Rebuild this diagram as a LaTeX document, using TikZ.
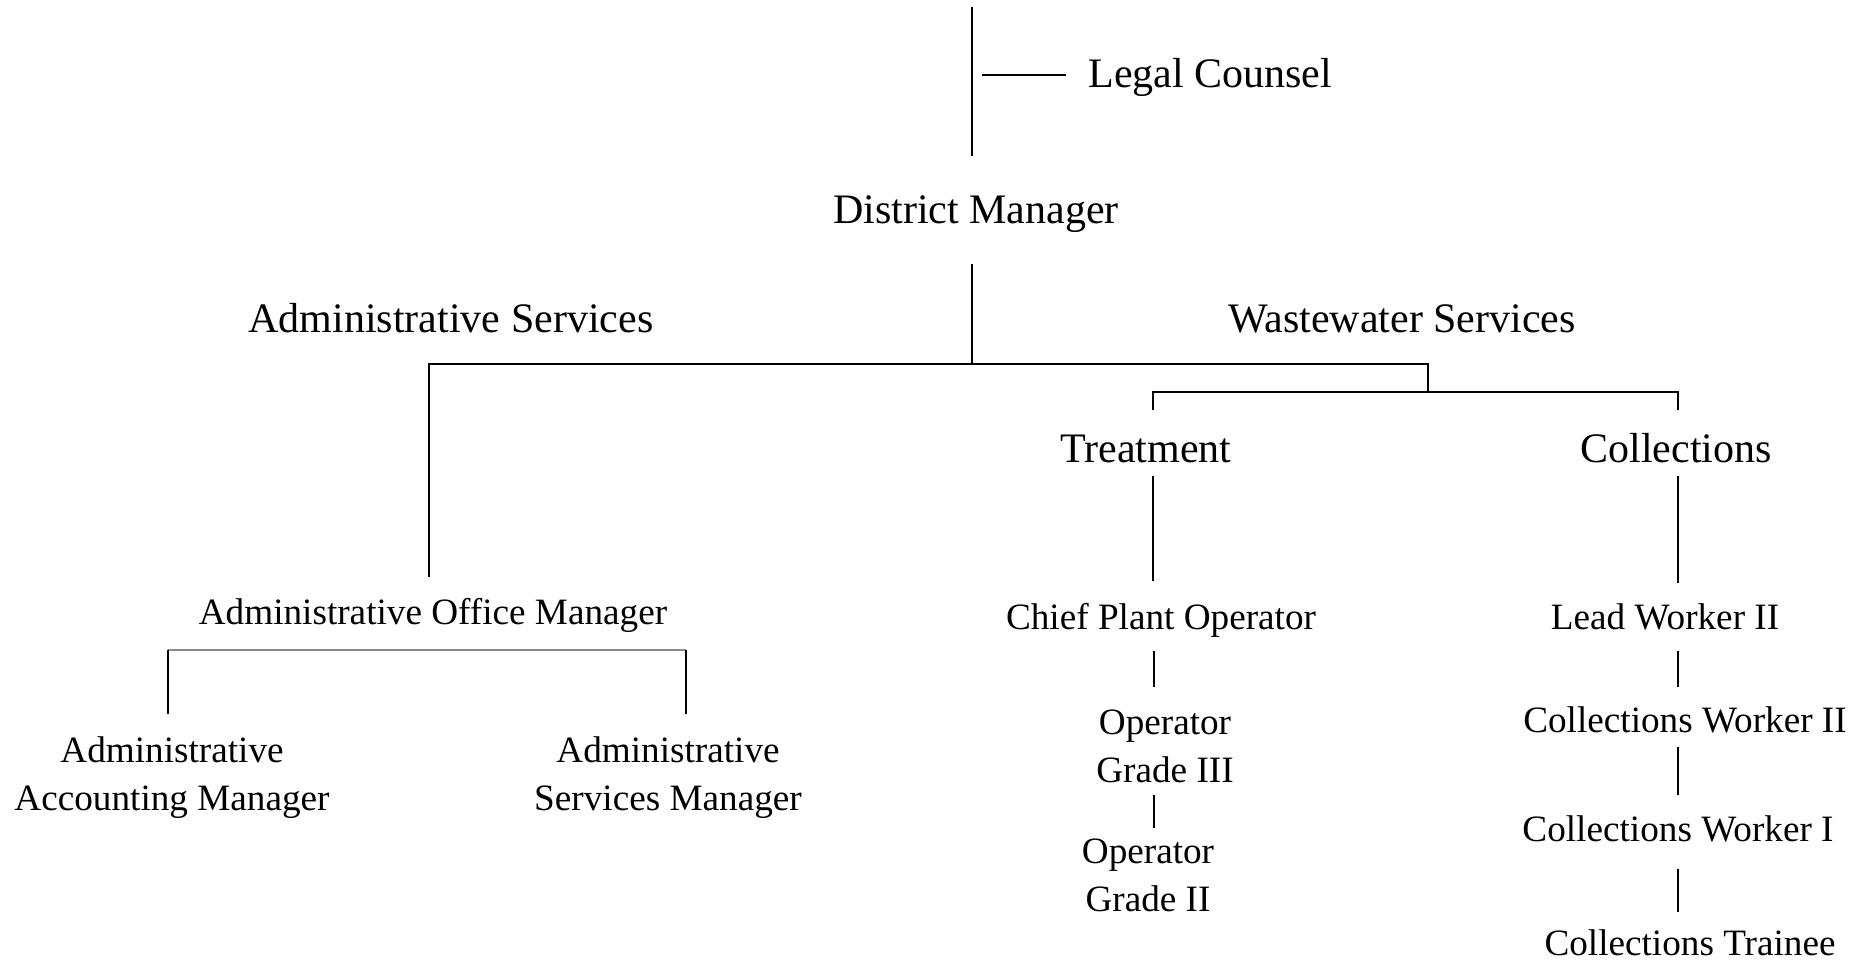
\documentclass[tikz,border=0pt]{standalone}
\usepackage{fontspec}
\setmainfont{Liberation Serif}
\begin{document}
\begin{tikzpicture}[x=0.5pt,y=-0.5pt,
  big/.style={inner sep=0pt,anchor=base,font=\fontsize{21}{25}\selectfont},
  small/.style={inner sep=0pt,anchor=base,align=center,font=\fontsize{18.6}{24}\selectfont},
  conn/.style={line width=1pt,black},
  thinconn/.style={line width=0.8pt,black},
  grayconn/.style={line width=0.8pt,black!45}]
\useasboundingbox (0,0) rectangle (1867,960);
% nodes (two-line nodes are placed by the baseline of their last line)
\node[big,anchor=base west] (legal) at (1088,87) {Legal Counsel};
\node[big] (dm) at (976,223) {District Manager};
\node[big] (admsvc) at (451,332) {Administrative Services};
\node[big] (ww) at (1402,332) {Wastewater Services};
\node[big] (treat) at (1146,462) {Treatment};
\node[big] (coll) at (1676,462) {Collections};
\node[small] (aom) at (433,624) {Administrative Office Manager};
\node[small] (aam) at (172,810) {Administrative\\Accounting Manager};
\node[small] (asm) at (668,810) {Administrative\\Services Manager};
\node[small] (cpo) at (1161,629) {Chief Plant Operator};
\node[small] (op3) at (1165,782) {Operator\\Grade III};
\node[small] (op2) at (1148,911) {Operator\\Grade II};
\node[small] (lw2) at (1665,629) {Lead Worker II};
\node[small] (cw2) at (1685,732) {Collections Worker II};
\node[small] (cw1) at (1678,841) {Collections Worker I};
\node[small] (ct) at (1690,955) {Collections Trainee};
% coordinates
\coordinate (top1) at (972,7);
\coordinate (top2) at (972,156);
\coordinate (lg1) at (982,75);
\coordinate (lg2) at (1066,75);
\coordinate (dm1) at (972,264);
\coordinate (dm2) at (972,364);
\coordinate (aomtop) at (429,577);
\coordinate (mainL) at (429,364);
\coordinate (mainR) at (1428,364);
\coordinate (wwj) at (1428,392);
\coordinate (wwL) at (1153,392);
\coordinate (wwR) at (1678,392);
\coordinate (treattop) at (1153,410);
\coordinate (colltop) at (1678,410);
\coordinate (tr1) at (1153,476);
\coordinate (tr2) at (1153,581);
\coordinate (co1) at (1678,476);
\coordinate (co2) at (1678,583);
\coordinate (aL) at (168,650);
\coordinate (aR) at (686,650);
\coordinate (aLb) at (168,714);
\coordinate (aRb) at (686,714);
\coordinate (c1) at (1154,651);
\coordinate (c2) at (1154,687);
\coordinate (o1) at (1154,795);
\coordinate (o2) at (1154,828);
\coordinate (l1) at (1678,651);
\coordinate (l2) at (1678,687);
\coordinate (w1) at (1678,747);
\coordinate (w2) at (1678,795);
\coordinate (t1) at (1678,869);
\coordinate (t2) at (1678,912);
% connectors
\draw[conn] (top1) -- (top2);
\draw[conn] (lg1) -- (lg2);
\draw[conn] (dm1) -- (dm2);
\draw[conn] (aomtop) -- (mainL) -- (mainR) -- (wwj);
\draw[thinconn] (treattop) -- (wwL) -- (wwR) -- (colltop);
\draw[thinconn] (tr1) -- (tr2);
\draw[thinconn] (co1) -- (co2);
\draw[grayconn] (aL) -- (aR);
\draw[thinconn] (aL) -- (aLb);
\draw[thinconn] (aR) -- (aRb);
\draw[thinconn] (c1) -- (c2);
\draw[thinconn] (o1) -- (o2);
\draw[thinconn] (l1) -- (l2);
\draw[thinconn] (w1) -- (w2);
\draw[thinconn] (t1) -- (t2);
\end{tikzpicture}
\end{document}
